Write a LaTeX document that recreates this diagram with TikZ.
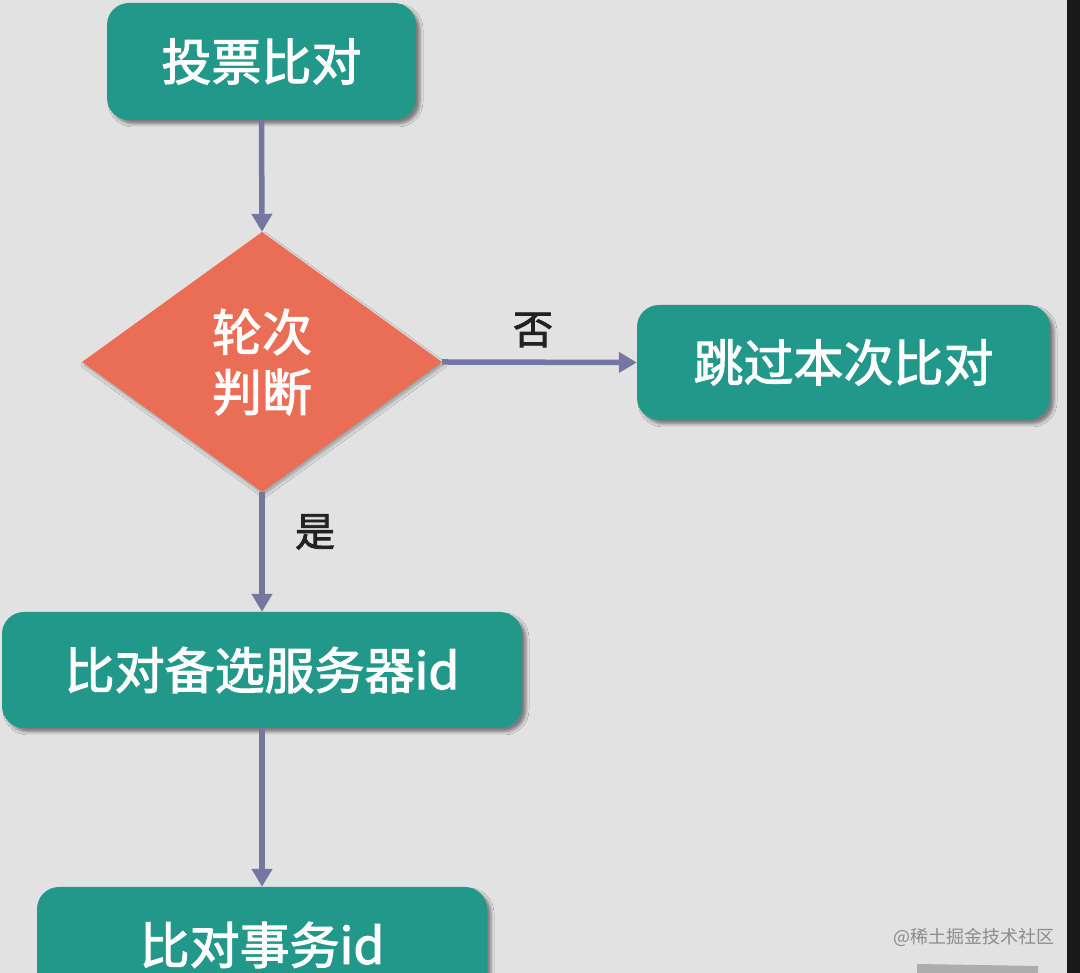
\documentclass[tikz,border=0pt]{standalone}
\usepackage{fontspec}
\setmainfont{Noto Sans CJK SC}[FakeBold=2]
\newfontfamily\wmfont{Noto Sans CJK SC}
\usetikzlibrary{shapes.geometric,arrows.meta,shadows.blur}
\definecolor{bg}{HTML}{E2E2E2}
\definecolor{teal}{HTML}{22988A}
\definecolor{coral}{HTML}{EA6E55}
\definecolor{arrowc}{HTML}{7676A2}
\definecolor{labelc}{HTML}{222222}
\definecolor{wmark}{HTML}{8C8C8C}
\tikzset{
  box/.style={draw=none, fill=teal, rounded corners=22pt, text=white, inner sep=0pt,
    font=\fontsize{50}{60}\selectfont,
    blur shadow={shadow xshift=4pt, shadow yshift=-4pt, shadow blur radius=3pt, shadow opacity=45}},
  decision/.style={diamond, draw=none, fill=coral, text=white, inner sep=0pt, align=center,
    minimum width=360pt, minimum height=260pt, aspect=1.385,
    font=\fontsize{50}{60}\selectfont,
    blur shadow={shadow xshift=2pt, shadow yshift=-3pt, shadow blur radius=3pt, shadow opacity=30}},
  conn/.style={draw=arrowc, line width=5.5pt, -{Triangle[length=18pt,width=20pt]}},
  lbl/.style={text=labelc, font=\fontsize{40}{48}\selectfont, inner sep=0pt},
}
\begin{document}
\begin{tikzpicture}[x=1pt,y=1pt]
\useasboundingbox (0,0) rectangle (1080,973);
\clip (0,0) rectangle (1080,973);
\fill[bg] (0,0) rectangle (1080,973);
\fill[black!90] (1067,0) rectangle (1080,973);
\fill[black!32] (917,0) -- (917,9) -- (1038,7) -- (1038,0) -- cycle;

\node[box, minimum width=309pt, minimum height=117pt] (b1) at (261.5,911.5) {投票比对};
\node[decision] (d) at (262,611) {轮次\\判断};
\node[box, minimum width=413pt, minimum height=115pt] (b2) at (843.5,610.5) {跳过本次比对};
\node[box, minimum width=520pt, minimum height=116pt] (b3) at (262,303) {比对备选服务器id};
\node[box, minimum width=450pt, minimum height=116pt] (b4) at (262,28) {比对事务id};

\draw[conn] (b1.south) -- (d.north);
\draw[conn] (d.east) -- (b2.west);
\draw[conn] (d.south) -- (b3.north);
\draw[conn] (b3.south) -- (b4.north);

\node[lbl] (no) at (533,643) {否};
\node[lbl] (yes) at (315,441) {是};

\node[text=wmark, font=\wmfont\fontsize{18}{20}\selectfont, inner sep=0pt] (wm) at (974,36) {@稀土掘金技术社区};
\end{tikzpicture}
\end{document}
